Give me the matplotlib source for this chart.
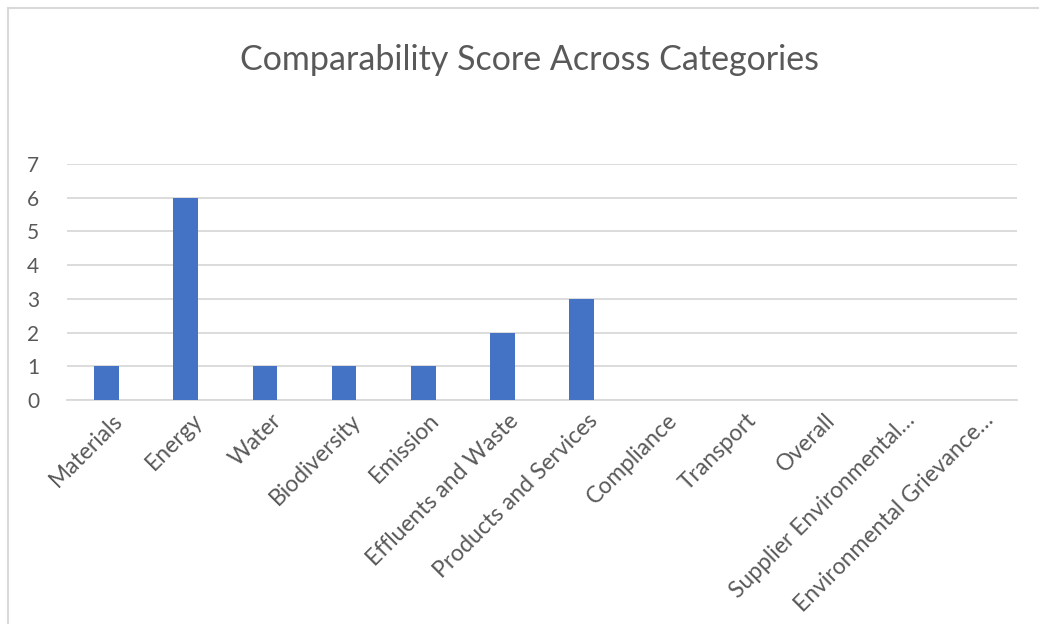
import matplotlib
matplotlib.use('Agg')
import matplotlib.pyplot as plt
from matplotlib.lines import Line2D
from matplotlib.transforms import ScaledTranslation

categories = ["Materials", "Energy", "Water", "Biodiversity", "Emission",
              "Effluents and Waste", "Products and Services", "Compliance",
              "Transport", "Overall", "Supplier Environmental\u2026",
              "Environmental Grievance\u2026"]
scores = [1, 6, 1, 1, 1, 2, 3, 0, 0, 0, 0, 0]
y_ticks = [0, 1, 2, 3, 4, 5, 6, 7]

text_color = "#595959"
grid_color = "#D9D9D9"
bar_color = "#4472C4"

plt.rcParams['font.family'] = ['Lato', 'DejaVu Sans']

fig = plt.figure(figsize=(10.39, 6.24), dpi=100)
ax = fig.add_axes([67 / 1039, 1 - 400 / 624, 950 / 1039, 236 / 624])

x = range(len(categories))
ax.bar(x, scores, width=0.31, color=bar_color, zorder=3)

ax.set_xlim(-0.5, len(categories) - 0.5)
ax.set_ylim(0, 7)
ax.set_yticks(y_ticks)
ax.yaxis.grid(True, color=grid_color, linewidth=1.3, zorder=0)
ax.tick_params(axis='y', length=0, pad=20, labelsize=15, labelcolor=text_color)
ax.tick_params(axis='x', length=0, pad=7)
ax.set_xticks(list(x))
ax.set_xticklabels(categories, rotation=45, ha='right', va='top',
                   rotation_mode='anchor', fontsize=16.5, color=text_color)
# nudge the slanted labels a little to the right, like Excel does
shift = ScaledTranslation(4 / 72, 0, fig.dpi_scale_trans)
for lbl in ax.get_xticklabels():
    lbl.set_transform(lbl.get_transform() + shift)
for side in ['top', 'right', 'left']:
    ax.spines[side].set_visible(False)
ax.spines['bottom'].set_color(grid_color)
ax.spines['bottom'].set_linewidth(1.3)

fig.text(530 / 1039, 1 - 60 / 624, "Comparability Score Across Categories",
         ha='center', va='center', fontsize=24.5, color=text_color)

# outer chart frame (cropped screenshot shows only top and left edges)
fig.add_artist(Line2D([8 / 1039, 8 / 1039], [0, 1 - 8 / 624],
                      transform=fig.transFigure, color=grid_color, linewidth=1.5))
fig.add_artist(Line2D([8 / 1039, 1], [1 - 8 / 624, 1 - 8 / 624],
                      transform=fig.transFigure, color=grid_color, linewidth=1.5))

fig.savefig("out.png", dpi=100)
plt.close(fig)
